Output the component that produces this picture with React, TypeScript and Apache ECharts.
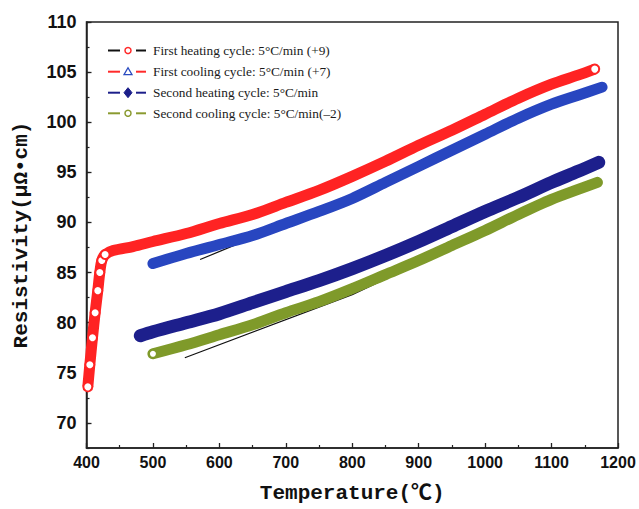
import React, { useEffect, useRef } from "react";
import * as echarts from "echarts";

const heat1T = [402, 405, 409, 413, 417, 420, 423, 428, 440, 470, 500, 550, 600, 650, 700, 750, 800, 850, 900, 950, 1000, 1050, 1100, 1140, 1165];
const heat1R = [73.6, 75.8, 78.5, 81.0, 83.2, 85.0, 86.2, 86.8, 87.2, 87.6, 88.1, 88.9, 89.9, 90.8, 92.0, 93.2, 94.6, 96.1, 97.7, 99.2, 100.8, 102.4, 103.8, 104.7, 105.3];

const cool1T = [500, 550, 600, 650, 700, 750, 800, 850, 900, 950, 1000, 1050, 1100, 1140, 1176];
const cool1R = [85.9, 86.9, 87.8, 88.7, 89.9, 91.1, 92.4, 94.0, 95.6, 97.2, 98.8, 100.4, 101.8, 102.7, 103.5];

const heat2T = [481, 500, 550, 600, 650, 700, 750, 800, 850, 900, 950, 1000, 1050, 1100, 1140, 1171];
const heat2R = [78.7, 79.1, 80.0, 80.9, 82.0, 83.1, 84.2, 85.4, 86.7, 88.1, 89.6, 91.1, 92.5, 94.0, 95.1, 96.0];

const cool2T = [500, 550, 600, 650, 700, 750, 800, 850, 900, 950, 1000, 1050, 1100, 1140, 1169];
const cool2R = [76.9, 77.8, 78.8, 79.8, 81.0, 82.1, 83.4, 84.8, 86.2, 87.7, 89.2, 90.8, 92.3, 93.3, 94.0];

const guide1T = [571, 705];
const guide1R = [86.3, 90.0];
const guide2T = [548, 800, 925];
const guide2R = [76.5, 82.8, 86.7];

const yLabelValues = [70, 75, 80, 85, 90, 95, 100, 105, 110];

const legendLabels = [
  "First heating cycle: 5°C/min (+9)",
  "First cooling cycle: 5°C/min (+7)",
  "Second heating cycle: 5°C/min",
  "Second cooling cycle: 5°C/min(\u20132)",
];
const legendLineColors = ["#111111", "#ff2a2a", "#1c1f8a", "#8a9a30"];
const legendMarkColors = ["#ff2a2a", "#2a4bc0", "#1c1f8a", "#8a9a30"];

const RED = "#ff2323";
const BLUE = "#2846c0";
const NAVY = "#1d1f8c";
const OLIVE = "#7f9a2a";

function pairs(t: number[], r: number[]) {
  return t.map((x, i) => [x, r[i]]);
}

export default function App() {
  const ref = useRef<HTMLDivElement>(null);
  useEffect(() => {
    if (!ref.current) return;
    const chart = echarts.init(ref.current, null, { renderer: "svg" });

    const redData = heat1T.map((x, i) => {
      const show = i < 8 || i === heat1T.length - 1;
      return show ? { value: [x, heat1R[i]] } : { value: [x, heat1R[i]], symbol: "none" };
    });

    const legendItems: any[] = [];
    const rowsY = [50.5, 71.7, 92.7, 113.3];
    rowsY.forEach((y, i) => {
      legendItems.push({ type: "line", shape: { x1: 108, y1: y, x2: 120, y2: y }, style: { stroke: legendLineColors[i], lineWidth: 2 } });
      legendItems.push({ type: "line", shape: { x1: 136, y1: y, x2: 146, y2: y }, style: { stroke: legendLineColors[i], lineWidth: 2 } });
      if (i === 0) {
        legendItems.push({ type: "circle", shape: { cx: 128, cy: y, r: 3 }, style: { fill: "#fff", stroke: legendMarkColors[i], lineWidth: 1.5 } });
      } else if (i === 1) {
        legendItems.push({ type: "polygon", shape: { points: [[128, y - 4], [124, y + 3], [132, y + 3]] }, style: { fill: "#fff", stroke: legendMarkColors[i], lineWidth: 1.3 } });
      } else if (i === 2) {
        legendItems.push({ type: "polygon", shape: { points: [[128, y - 5], [132, y], [128, y + 5], [124, y]] }, style: { fill: legendMarkColors[i], stroke: legendMarkColors[i], lineWidth: 1 } });
      } else {
        legendItems.push({ type: "circle", shape: { cx: 128, cy: y, r: 3 }, style: { fill: "#fff", stroke: legendMarkColors[i], lineWidth: 1.5 } });
      }
      legendItems.push({
        type: "text",
        x: 153,
        y: y,
        style: { text: legendLabels[i], fill: "#1a1a1a", font: "13.3px 'Liberation Serif', serif", textVerticalAlign: "middle" },
      });
    });

    const axisLineStyle = { color: "#222", width: 1.5 };

    chart.setOption({
      animation: false,
      backgroundColor: "#ffffff",
      grid: { left: 86.5, right: 21, top: 22, bottom: 60, show: true, borderColor: "#222", borderWidth: 1.5 },
      xAxis: {
        type: "value",
        min: 400,
        max: 1200,
        interval: 100,
        name: "Temperature(\u2103)",
        nameLocation: "middle",
        nameGap: 35,
        nameTextStyle: { fontFamily: "'Liberation Mono', 'Noto Sans CJK SC', monospace", fontSize: 21, color: "#111", fontWeight: "bold" },
        axisLine: { show: true, onZero: false, lineStyle: axisLineStyle },
        axisTick: { show: true, inside: true, length: 5, lineStyle: { color: "#222", width: 1.3 } },
        minorTick: { show: true, splitNumber: 2, length: 3, lineStyle: { color: "#222", width: 1.2 } },
        axisLabel: {
          fontFamily: "'Liberation Sans', Arial, sans-serif",
          fontSize: 16,
          fontWeight: "bold",
          color: "#111",
          margin: 6,
          formatter: (v: number) => String(v),
        },
        splitLine: { show: false },
      },
      yAxis: [
        {
          type: "value",
          min: 67.5,
          max: 110,
          interval: 2.5,
          name: "Resistivity(\u03bc\u03a9\u2022cm)",
          nameLocation: "middle",
          nameGap: 55,
          nameTextStyle: { fontFamily: "'Liberation Mono', monospace", fontSize: 21, color: "#111", fontWeight: "bold" },
          axisLine: { show: true, onZero: false, lineStyle: axisLineStyle },
          axisTick: { show: true, inside: true, length: 5, customValues: yLabelValues, lineStyle: { color: "#222", width: 1.3 } },
          axisLabel: {
            fontFamily: "'Liberation Sans', Arial, sans-serif",
            fontSize: 18,
            fontWeight: "bold",
            color: "#111",
            margin: 10,
            customValues: yLabelValues,
            formatter: (v: number) => (v % 5 === 0 ? String(v) : ""),
          },
          splitLine: { show: false },
        },
        {
          type: "value",
          position: "left",
          min: 67.5,
          max: 110,
          interval: 2.5,
          axisLine: { show: false, onZero: false },
          axisTick: { show: true, inside: true, length: 3, lineStyle: { color: "#222", width: 1.2 } },
          axisLabel: { show: false },
          splitLine: { show: false },
        },
      ],
      series: [
        {
          name: "guide1",
          type: "line",
          data: pairs(guide1T, guide1R),
          showSymbol: false,
          lineStyle: { color: "#111", width: 1.2 },
          z: 1,
        },
        {
          name: "guide2",
          type: "line",
          data: pairs(guide2T, guide2R),
          showSymbol: false,
          lineStyle: { color: "#111", width: 1.2 },
          z: 1,
        },
        {
          name: legendLabels[0],
          type: "line",
          data: redData,
          smooth: 0.3,
          symbol: "circle",
          symbolSize: 9,
          showSymbol: true,
          lineStyle: { color: RED, width: 11 },
          itemStyle: { color: "#fff", borderColor: RED, borderWidth: 2 },
          z: 3,
        },
        {
          name: legendLabels[1],
          type: "line",
          data: pairs(cool1T, cool1R),
          smooth: 0.3,
          showSymbol: false,
          lineStyle: { color: BLUE, width: 11, cap: "round" },
          z: 3,
        },
        {
          name: legendLabels[2],
          type: "line",
          data: pairs(heat2T, heat2R),
          smooth: 0.3,
          showSymbol: false,
          lineStyle: { color: NAVY, width: 13, cap: "round" },
          z: 3,
        },
        {
          name: legendLabels[3],
          type: "line",
          data: cool2T.map((x, i) =>
            i === 0 ? { value: [x, cool2R[i]], symbol: "circle", symbolSize: 8 } : { value: [x, cool2R[i]], symbol: "none" }
          ),
          smooth: 0.3,
          showSymbol: true,
          lineStyle: { color: OLIVE, width: 11, cap: "round" },
          itemStyle: { color: "#fff", borderColor: OLIVE, borderWidth: 2 },
          z: 3,
        },
      ],
      graphic: legendItems,
    });
    return () => chart.dispose();
  }, []);
  return <div ref={ref} style={{ position: "fixed", left: 0, top: 0, width: 639, height: 509 }} />;
}
